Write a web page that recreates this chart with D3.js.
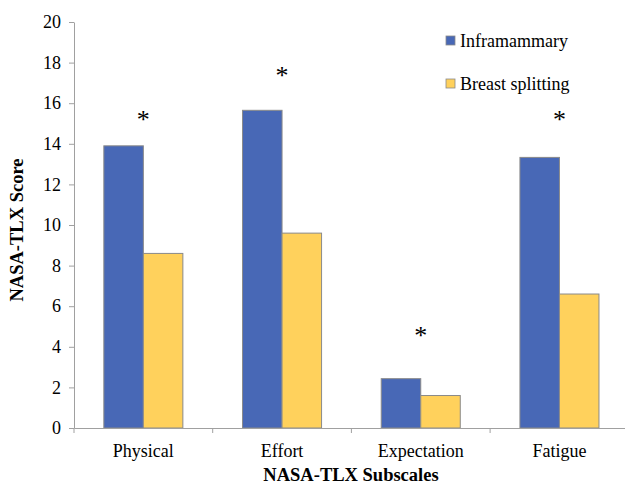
<!DOCTYPE html>
<html>
<head>
<meta charset="utf-8">
<script src="https://cdn.jsdelivr.net/npm/d3@7/dist/d3.min.js"></script>
<style>
  html, body { margin: 0; padding: 0; background: #fff; }
  svg { display: block; }
</style>
</head>
<body>
<svg id="chart" width="625" height="484"></svg>
<script>
const categories = ["Physical", "Effort", "Expectation", "Fatigue"];
const seriesNames = ["Inframammary", "Breast splitting"];
const inframammary = [13.9, 15.65, 2.43, 13.33];
const breastSplitting = [8.6, 9.6, 1.6, 6.6];
const asteriskLevels = [15.3, 17.5, 4.66, 15.3];
const yTicks = [0, 2, 4, 6, 8, 10, 12, 14, 16, 18, 20];
const colors = ["#4868B6", "#FFD15C"];

const FONT = "'Liberation Serif', 'Times New Roman', Times, serif";
const W = 625, H = 484;
const margin = { top: 22, right: -3.8, bottom: 56, left: 74 };
const svg = d3.select("#chart").style("font-family", FONT);

const x0 = d3.scaleBand().domain(categories).range([margin.left, W - margin.right]).padding(0);
const x1 = d3.scaleBand().domain(seriesNames).range([0, x0.bandwidth()]).paddingInner(0).paddingOuter(0.755);
const y = d3.scaleLinear().domain([0, 20]).range([H - margin.bottom, margin.top]);

const seriesValues = [inframammary, breastSplitting];

// Bars
const groups = svg.append("g").selectAll("g")
  .data(categories)
  .join("g")
  .attr("transform", c => `translate(${x0(c)},0)`);

groups.selectAll("rect")
  .data((c, i) => seriesNames.map((s, si) => ({ s, si, v: seriesValues[si][i] })))
  .join("rect")
  .attr("x", d => x1(d.s))
  .attr("y", d => y(d.v))
  .attr("width", x1.bandwidth())
  .attr("height", d => y(0) - y(d.v))
  .attr("fill", d => colors[d.si])
  .attr("stroke", "#8a8a8a")
  .attr("stroke-width", 1);

// Y axis
const yAxis = svg.append("g")
  .attr("transform", `translate(${margin.left},0)`)
  .call(d3.axisLeft(y).tickValues(yTicks).tickSize(5).tickPadding(8).tickSizeOuter(0));
yAxis.attr("font-family", null).attr("font-size", null);
yAxis.select(".domain").attr("stroke", "#a0a0a0");
yAxis.selectAll(".tick line").attr("stroke", "#a0a0a0");
yAxis.selectAll(".tick text").style("font-size", "18px").style("font-family", FONT).attr("fill", "#000");

// X axis
const xAxis = svg.append("g")
  .attr("transform", `translate(0,${y(0)})`)
  .call(d3.axisBottom(x0).tickSize(0).tickPadding(16).tickSizeOuter(0));
xAxis.attr("font-family", null).attr("font-size", null);
xAxis.select(".domain").attr("stroke", "#a0a0a0");
xAxis.selectAll(".tick text").style("font-size", "18px").style("font-family", FONT).attr("fill", "#000");

// boundary ticks on x axis
const boundaries = categories.map(c => x0(c));
svg.append("g").selectAll("line")
  .data(boundaries)
  .join("line")
  .attr("x1", d => d).attr("x2", d => d)
  .attr("y1", y(0)).attr("y2", y(0) + 5)
  .attr("stroke", "#a0a0a0");

// Asterisks
svg.append("g").selectAll("text")
  .data(categories)
  .join("text")
  .attr("x", c => x0(c) + x0.bandwidth() / 2)
  .attr("y", (c, i) => y(asteriskLevels[i]) + 11)
  .attr("text-anchor", "middle")
  .style("font-family", FONT)
  .style("font-size", "26px")
  .text("*");

// Axis titles
svg.append("text")
  .attr("transform", `translate(23,230) rotate(-90)`)
  .attr("text-anchor", "middle")
  .style("font-family", FONT)
  .style("font-size", "18.5px")
  .style("font-weight", "bold")
  .text("NASA-TLX Score");

svg.append("text")
  .attr("x", 351)
  .attr("y", 481)
  .attr("text-anchor", "middle")
  .style("font-family", FONT)
  .style("font-size", "18.5px")
  .style("font-weight", "bold")
  .text("NASA-TLX Subscales");

// Legend
const legend = svg.append("g").attr("transform", "translate(446,36)");
seriesNames.forEach((s, i) => {
  const g = legend.append("g").attr("transform", `translate(0,${i * 43})`);
  g.append("rect").attr("width", 9).attr("height", 9).attr("fill", colors[i]).attr("stroke", "#8a8a8a").attr("stroke-width", 0.8);
  g.append("text").attr("x", 14).attr("y", 10.5).style("font-family", FONT).style("font-size", "18px").text(s);
});
</script>
</body>
</html>
